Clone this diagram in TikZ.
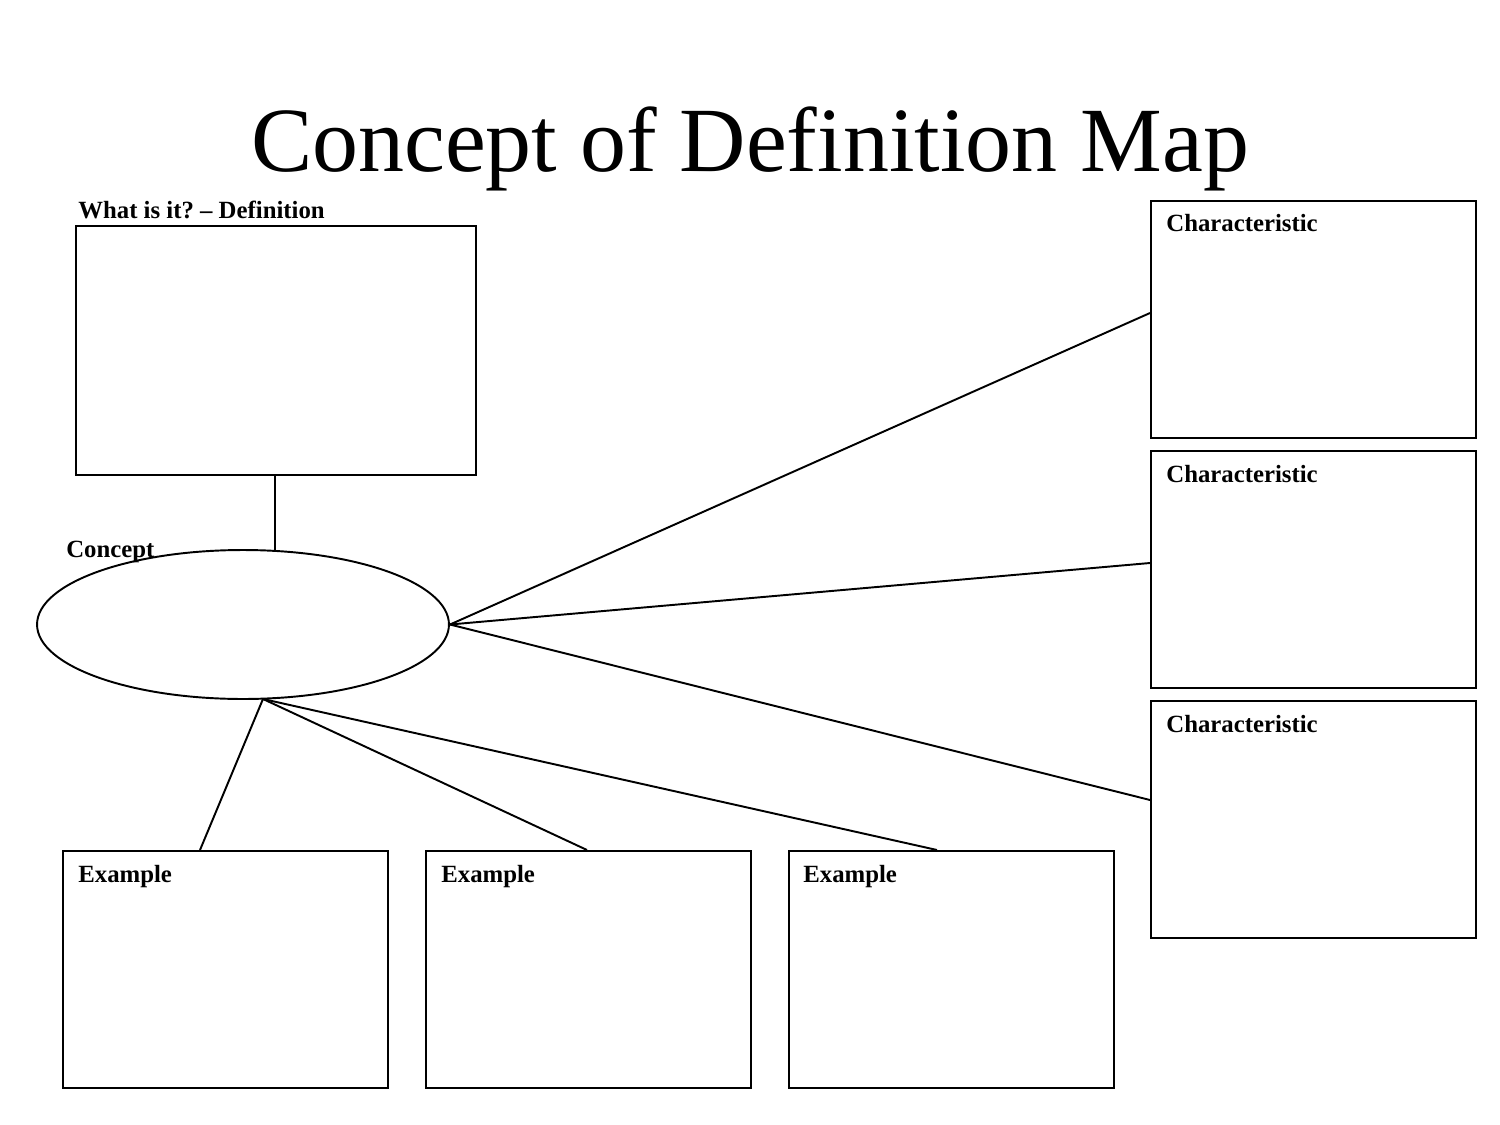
\documentclass[tikz,border=0pt]{standalone}
\usepackage{fontspec}
\setmainfont{Liberation Serif}
\usetikzlibrary{shapes.geometric}
\frenchspacing
\begin{document}
\begin{tikzpicture}[x=0.02cm,y=-0.02cm,
  box/.style={draw,line width=1.1pt,rectangle,inner sep=0pt,anchor=north west},
  charbox/.style={box,minimum width=6.5cm,minimum height=4.74cm},
  exbox/.style={box,minimum width=6.5cm,minimum height=4.74cm},
  lbl/.style={anchor=base west,inner sep=0pt,font=\fontsize{14.1pt}{16pt}\selectfont\bfseries},
  conn/.style={draw,line width=1.1pt}]
\useasboundingbox (0,0) rectangle (1500,1125);
\node[anchor=base,inner sep=0pt,font=\fontsize{52.3pt}{62pt}\selectfont] (title) at (750,172) {Concept of Definition Map};
% definition
\node[box,minimum width=8cm,minimum height=4.98cm] (def) at (75,225) {};
\node[lbl] (deflbl) at (78,218) {What is it? -- Definition};
% concept
\node[draw,line width=1.1pt,ellipse,minimum width=8.24cm,minimum height=2.98cm,inner sep=0pt] (con) at (243,624.5) {};
\node[lbl] (conlbl) at (66,557) {Concept};
% characteristics
\node[charbox] (c1) at (1150,200) {};
\node[charbox] (c2) at (1150,450) {};
\node[charbox] (c3) at (1150,700) {};
\node[lbl] (c1l) at (1166,232) {Characteristic};
\node[lbl] (c2l) at (1166,482) {Characteristic};
\node[lbl] (c3l) at (1166,732) {Characteristic};
% examples
\node[exbox] (e1) at (62,850) {};
\node[exbox] (e2) at (425,850) {};
\node[exbox] (e3) at (788,850) {};
\node[lbl] (e1l) at (78,882) {Example};
\node[lbl] (e2l) at (441,882) {Example};
\node[lbl] (e3l) at (803,882) {Example};
% connectors
\coordinate (defb) at (275,474);
\coordinate (cont) at (275,550);
\coordinate (conr) at (450,624.5);
\coordinate (conb) at (263,699);
\draw[conn] (defb) -- (cont);
\draw[conn] (conr) -- (c1.west |- 0,313);
\draw[conn] (conr) -- (c2.west |- 0,563);
\draw[conn] (conr) -- (c3.west |- 0,800);
\draw[conn] (conb) -- (e1.north west -| 200,0);
\draw[conn] (conb) -- (e2.north west -| 587,0);
\draw[conn] (conb) -- (e3.north west -| 937,0);
\end{tikzpicture}
\end{document}
